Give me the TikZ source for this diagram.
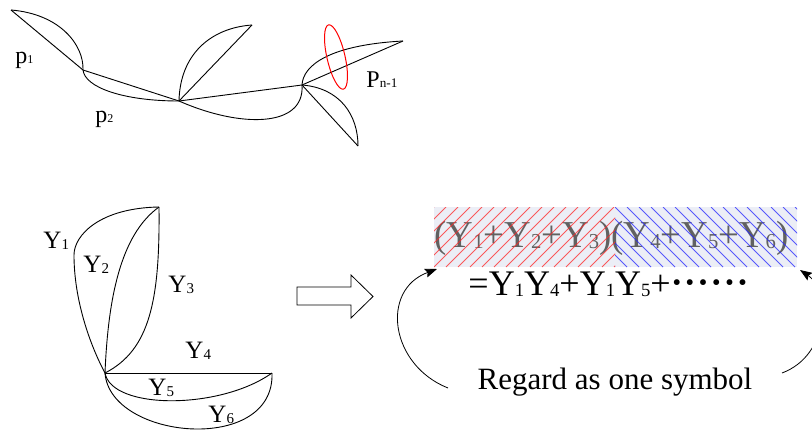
\documentclass[tikz,border=0pt]{standalone}
\usepackage{fontspec}
\usepackage{graphicx}
\setmainfont{Liberation Serif}
\usetikzlibrary{arrows.meta}
\newcommand\subd[2][0.6]{\raisebox{-0.04em}{\scalebox{#1}{#2}}}
\newcommand\mdot{\raisebox{0.02em}{\textbf{·}}\kern1.2pt}
\definecolor{hatchbg}{RGB}{236,238,246}
\begin{document}
\begin{tikzpicture}[x=1pt,y=-1pt,line width=0.9pt,
  lbl/.style={font=\fontsize{24}{26}\selectfont,inner sep=0pt,anchor=base west},
  ylbl/.style={font=\fontsize{25}{27}\selectfont,inner sep=0pt,anchor=base west},
  curvarrow/.style={line width=0.8pt,-{Stealth[length=12pt,width=9pt,inset=2pt]}}]
\useasboundingbox (0,0) rectangle (812,434);
\clip (0,0) rectangle (812,434);
% ---------- top chain ----------
\coordinate (A) at (11,10);
\coordinate (B) at (83,70);
\coordinate (C) at (179,101);
\coordinate (D) at (302,85);
\coordinate (L1) at (252,25);
\coordinate (L2) at (403,41);
\coordinate (L3) at (358,146);
\draw (A) -- (B) -- (C) -- (D);
\draw (A) .. controls (60,14) and (84,45) .. (B);
\draw (B) .. controls (85,88) and (125,101) .. (C);
\draw (C) -- (L1);
\draw (C) .. controls (180,55) and (210,28) .. (L1);
\draw (C) .. controls (240,128) and (305,128) .. (D);
\draw (D) -- (L2);
\draw (D) .. controls (303,65) and (330,45) .. (L2);
\draw (D) -- (L3);
\draw (D) .. controls (340,88) and (358,115) .. (L3);
\coordinate (E) at (336,57);
\draw[red,line width=1pt,rotate around={13:(E)}] (E) ellipse (9 and 33);
\node[lbl] (p1) at (15,63) {p\subd[0.5]{1}};
\node[lbl] (p2) at (95,122) {p\subd[0.5]{2}};
\node[lbl] (pn) at (366,87) {P\subd[0.55]{n-1}};
% ---------- bottom left figure ----------
\coordinate (T) at (159,207);
\coordinate (V) at (105,373);
\coordinate (R) at (272,373);
\coordinate (K) at (74,255);
\draw (T) .. controls (100,208) and (74,235) .. (K) .. controls (74,300) and (90,345) .. (V);
\draw (V) .. controls (108,300) and (120,235) .. (T);
\draw (T) .. controls (160,300) and (150,350) .. (V);
\draw (V) -- (R);
\draw (V) .. controls (112,410) and (220,410) .. (R);
\draw (V) .. controls (110,440) and (275,455) .. (R);
\node[ylbl] (y1) at (43,248) {Y\subd{1}};
\node[ylbl] (y2) at (83,272) {Y\subd{2}};
\node[ylbl] (y3) at (168,292) {Y\subd{3}};
\node[ylbl] (y4) at (185,358) {Y\subd{4}};
\node[ylbl] (y5) at (148,395) {Y\subd{5}};
\node[ylbl] (y6) at (208,422) {Y\subd{6}};
% ---------- block arrow ----------
\draw[line width=0.8pt] (297,287) -- (351,287) -- (351,275) -- (373,296.5) -- (351,318) -- (351,305) -- (297,305) -- cycle;
% ---------- hatched expression ----------
\fill[hatchbg] (434,207) rectangle (797,267);
\node[font=\fontsize{38}{40}\selectfont,text=black!62,inner sep=0pt,anchor=base west] (expr) at (434,247)
  {\scalebox{0.97}[1]{(Y\subd[0.56]{1}+Y\subd[0.56]{2}+Y\subd[0.56]{3})(Y\subd[0.56]{4}+Y\subd[0.56]{5}+Y\subd[0.56]{6})}};
\begin{scope}
\clip (434,207) rectangle (615,267);
\foreach \i in {0,12,...,252} \draw[red!85,line width=0.8pt,opacity=0.75] (374+\i,267) -- ++(60,-60);
\end{scope}
\begin{scope}
\clip (615,207) rectangle (797,267);
\foreach \i in {0,12,...,252} \draw[blue!85,line width=0.8pt,opacity=0.75] (555+\i,207) -- ++(60,60);
\end{scope}
\coordinate (hl) at (437,269);
\coordinate (hr) at (800,270);
\node[font=\fontsize{36}{38}\selectfont,inner sep=0pt,anchor=base west] (eq) at (468,295)
  {=Y\subd[0.52]{1}Y\subd[0.52]{4}+Y\subd[0.52]{1}Y\subd[0.52]{5}+\mdot\mdot\mdot\mdot\mdot\mdot};
\node[font=\fontsize{31}{33}\selectfont,inner sep=0pt,anchor=base] (reg) at (615,389) {Regard as one symbol};
\coordinate (sl) at (448,388);
\coordinate (sr) at (782,373);
\draw[curvarrow] (sl) .. controls (390,365) and (380,290) .. (hl);
\draw[curvarrow] (sr) .. controls (830,355) and (830,290) .. (hr);
\end{tikzpicture}
\end{document}
